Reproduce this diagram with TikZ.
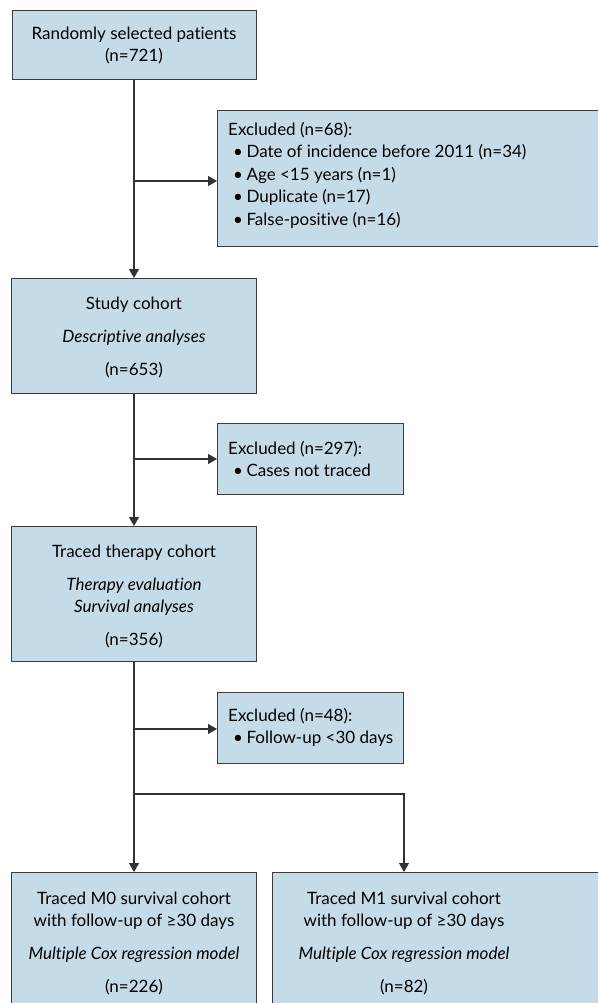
\documentclass[tikz,border=0pt]{standalone}
\usepackage{fontspec}
\setmainfont{Lato}[Ligatures=NoCommon]
\usetikzlibrary{arrows.meta}
\definecolor{boxfill}{RGB}{197,220,232}
\definecolor{boxline}{RGB}{60,60,60}
\definecolor{conn}{RGB}{50,50,50}
\newcommand{\bul}{\hspace*{5pt}\textbullet\hspace{3.5pt}}
\tikzset{
  box/.style={draw=boxline, fill=boxfill, line width=1.1pt, rectangle, inner sep=0pt, anchor=north west},
  txt/.style={inner sep=0pt, font=\fontsize{17}{22}\selectfont, align=center},
  ltxt/.style={inner sep=0pt, font=\fontsize{17}{22.5}\selectfont, align=left, anchor=north west},
  conline/.style={draw=conn, line width=1.2pt},
  tip/.style={-{Triangle[length=9pt,width=10pt]}},
}
\begin{document}
\begin{tikzpicture}[x=1pt,y=-1pt]
\useasboundingbox (0,0) rectangle (598,1003);
\clip (0,0) rectangle (598,1003);
% boxes
\node[box, minimum width=244pt, minimum height=69pt] (b1) at (12,10) {};
\node[box, minimum width=400pt, minimum height=136pt] (ex1) at (217,110) {};
\node[box, minimum width=245pt, minimum height=115pt] (study) at (11,278) {};
\node[box, minimum width=186pt, minimum height=71pt] (ex2) at (217,423) {};
\node[box, minimum width=245pt, minimum height=135pt] (traced) at (11,526) {};
\node[box, minimum width=186pt, minimum height=71pt] (ex3) at (217,692) {};
\node[box, minimum width=245pt, minimum height=150pt] (m0) at (11,872) {};
\node[box, minimum width=350pt, minimum height=150pt] (m1) at (272,872) {};
% texts
\node[txt] (t1) at (134,45) {Randomly selected patients\\(n=721)};
\node[ltxt] (te1) at (228,122) {Excluded (n=68):\\
\bul Date of incidence before 2011 (n=34)\\
\bul Age <15 years (n=1)\\
\bul Duplicate (n=17)\\
\bul False-positive (n=16)};
\node[txt] (ts) at (134,337) {Study cohort\\[11pt]\textit{Descriptive analyses}\\[11pt](n=653)};
\node[ltxt] (te2) at (228,441) {Excluded (n=297):\\
\bul Cases not traced};
\node[txt] (tt) at (134,596) {Traced therapy cohort\\[11pt]\textit{Therapy evaluation}\\\textit{Survival analyses}\\[11pt](n=356)};
\node[ltxt] (te3) at (228,708) {Excluded (n=48):\\
\bul Follow-up <30 days};
\node[txt] (tm0) at (134,943) {Traced M0 survival cohort\\with follow-up of ≥30 days\\[11pt]\textit{Multiple Cox regression model}\\[11pt](n=226)};
\node[txt] (tm1) at (404,943) {Traced M1 survival cohort\\with follow-up of ≥30 days\\[11pt]\textit{Multiple Cox regression model}\\[11pt](n=82)};
% connectors
\coordinate (j1) at (134,181);
\coordinate (j2) at (134,459);
\coordinate (j3) at (134,729);
\coordinate (j4) at (134,794);
\coordinate (j5) at (404,794);
\draw[conline, tip] (b1.south -| j1) -- (study.north -| j1);
\draw[conline, tip] (j1) -- (j1 -| ex1.west);
\draw[conline, tip] (study.south -| j1) -- (traced.north -| j1);
\draw[conline, tip] (j2) -- (j2 -| ex2.west);
\draw[conline, tip] (traced.south -| j1) -- (m0.north -| j1);
\draw[conline, tip] (j3) -- (j3 -| ex3.west);
\draw[conline, tip] (j4) -- (j5) -- (m1.north -| j5);
\end{tikzpicture}
\end{document}
